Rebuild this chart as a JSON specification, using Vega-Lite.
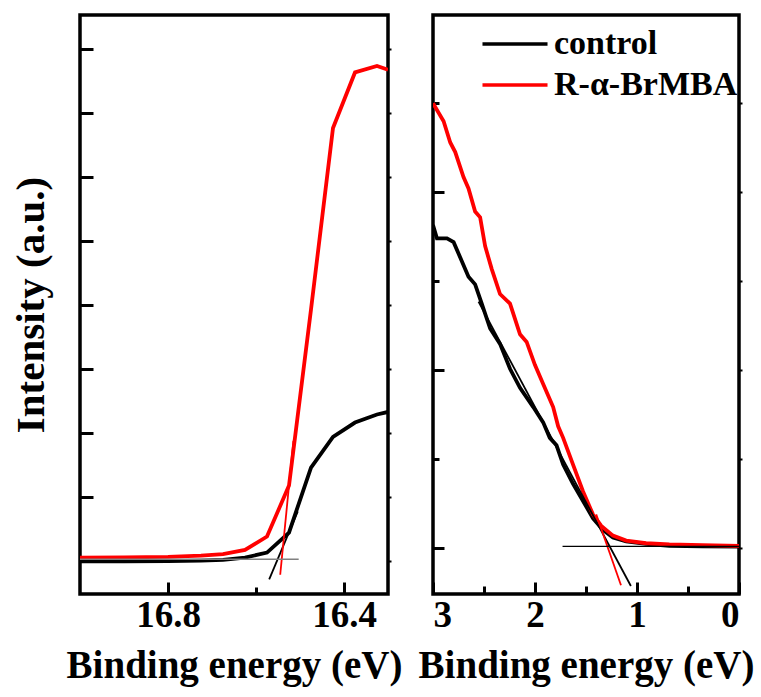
{
  "$schema": "https://vega.github.io/schema/vega-lite/v6.json",
  "padding": {"left": 8, "top": 13, "right": 5, "bottom": 5},
  "bounds": "flush",
  "spacing": 45,
  "background": "white",
  "config": {
    "view": {"stroke": "black", "strokeWidth": 3.5},
    "font": "Liberation Serif",
    "axis": {
      "domain": false, "grid": false,
      "labelFont": "Liberation Serif", "labelFontWeight": "bold", "labelFontSize": 37, "labelColor": "black",
      "titleFont": "Liberation Serif", "titleFontWeight": "bold", "titleFontSize": 39, "titleColor": "black",
      "tickColor": "black", "tickWidth": 3
    },
    "legend": {
      "labelFont": "Liberation Serif", "labelFontWeight": "bold", "labelFontSize": 34, "labelColor": "black", "labelLimit": 0
    }
  },
  "resolve": {"scale": {"color": "independent"}, "legend": {"color": "independent"}},
  "datasets": {
    "left": [
      {"s": "control", "e": 17.0, "v": 0.0},
      {"s": "control", "e": 16.9, "v": 0.001},
      {"s": "control", "e": 16.8, "v": 0.002},
      {"s": "control", "e": 16.725, "v": 0.006},
      {"s": "control", "e": 16.675, "v": 0.012},
      {"s": "control", "e": 16.625, "v": 0.030},
      {"s": "control", "e": 16.575, "v": 0.069},
      {"s": "control", "e": 16.525, "v": 0.225},
      {"s": "control", "e": 16.475, "v": 0.732},
      {"s": "control", "e": 16.425, "v": 0.972},
      {"s": "control", "e": 16.375, "v": 1.083},
      {"s": "control", "e": 16.325, "v": 1.146},
      {"s": "control", "e": 16.3, "v": 1.166},
      {"s": "R-α-BrMBA", "e": 17.0, "v": 0.030},
      {"s": "R-α-BrMBA", "e": 16.9, "v": 0.032},
      {"s": "R-α-BrMBA", "e": 16.8, "v": 0.035},
      {"s": "R-α-BrMBA", "e": 16.725, "v": 0.045},
      {"s": "R-α-BrMBA", "e": 16.675, "v": 0.057},
      {"s": "R-α-BrMBA", "e": 16.625, "v": 0.090},
      {"s": "R-α-BrMBA", "e": 16.575, "v": 0.194},
      {"s": "R-α-BrMBA", "e": 16.525, "v": 0.592},
      {"s": "R-α-BrMBA", "e": 16.475, "v": 1.965},
      {"s": "R-α-BrMBA", "e": 16.425, "v": 3.380},
      {"s": "R-α-BrMBA", "e": 16.375, "v": 3.814},
      {"s": "R-α-BrMBA", "e": 16.325, "v": 3.864},
      {"s": "R-α-BrMBA", "e": 16.3, "v": 3.835}
    ],
    "right": [
      {"s": "control", "e": 3.0, "v": 1.816},
      {"s": "control", "e": 2.961, "v": 1.740},
      {"s": "control", "e": 2.863, "v": 1.740},
      {"s": "control", "e": 2.798, "v": 1.719},
      {"s": "control", "e": 2.733, "v": 1.633},
      {"s": "control", "e": 2.652, "v": 1.525},
      {"s": "control", "e": 2.587, "v": 1.482},
      {"s": "control", "e": 2.522, "v": 1.374},
      {"s": "control", "e": 2.440, "v": 1.234},
      {"s": "control", "e": 2.343, "v": 1.148},
      {"s": "control", "e": 2.245, "v": 1.008},
      {"s": "control", "e": 2.147, "v": 0.901},
      {"s": "control", "e": 2.017, "v": 0.793},
      {"s": "control", "e": 1.920, "v": 0.707},
      {"s": "control", "e": 1.855, "v": 0.620},
      {"s": "control", "e": 1.789, "v": 0.578},
      {"s": "control", "e": 1.724, "v": 0.470},
      {"s": "control", "e": 1.627, "v": 0.362},
      {"s": "control", "e": 1.529, "v": 0.265},
      {"s": "control", "e": 1.431, "v": 0.168},
      {"s": "control", "e": 1.334, "v": 0.103},
      {"s": "control", "e": 1.236, "v": 0.060},
      {"s": "control", "e": 1.106, "v": 0.039},
      {"s": "control", "e": 0.911, "v": 0.024},
      {"s": "control", "e": 0.683, "v": 0.013},
      {"s": "control", "e": 0.358, "v": 0.011},
      {"s": "control", "e": 0.0, "v": 0.009},
      {"s": "R-α-BrMBA", "e": 3.0, "v": 2.499},
      {"s": "R-α-BrMBA", "e": 2.896, "v": 2.398},
      {"s": "R-α-BrMBA", "e": 2.831, "v": 2.279},
      {"s": "R-α-BrMBA", "e": 2.782, "v": 2.225},
      {"s": "R-α-BrMBA", "e": 2.701, "v": 2.085},
      {"s": "R-α-BrMBA", "e": 2.652, "v": 2.021},
      {"s": "R-α-BrMBA", "e": 2.587, "v": 1.891},
      {"s": "R-α-BrMBA", "e": 2.538, "v": 1.859},
      {"s": "R-α-BrMBA", "e": 2.489, "v": 1.697},
      {"s": "R-α-BrMBA", "e": 2.424, "v": 1.568},
      {"s": "R-α-BrMBA", "e": 2.343, "v": 1.428},
      {"s": "R-α-BrMBA", "e": 2.245, "v": 1.374},
      {"s": "R-α-BrMBA", "e": 2.147, "v": 1.202},
      {"s": "R-α-BrMBA", "e": 2.082, "v": 1.159},
      {"s": "R-α-BrMBA", "e": 2.001, "v": 1.030},
      {"s": "R-α-BrMBA", "e": 1.920, "v": 0.922},
      {"s": "R-α-BrMBA", "e": 1.822, "v": 0.793},
      {"s": "R-α-BrMBA", "e": 1.773, "v": 0.685},
      {"s": "R-α-BrMBA", "e": 1.724, "v": 0.620},
      {"s": "R-α-BrMBA", "e": 1.627, "v": 0.470},
      {"s": "R-α-BrMBA", "e": 1.529, "v": 0.319},
      {"s": "R-α-BrMBA", "e": 1.431, "v": 0.189},
      {"s": "R-α-BrMBA", "e": 1.350, "v": 0.125},
      {"s": "R-α-BrMBA", "e": 1.236, "v": 0.071},
      {"s": "R-α-BrMBA", "e": 1.106, "v": 0.043},
      {"s": "R-α-BrMBA", "e": 0.911, "v": 0.028},
      {"s": "R-α-BrMBA", "e": 0.683, "v": 0.021},
      {"s": "R-α-BrMBA", "e": 0.358, "v": 0.017},
      {"s": "R-α-BrMBA", "e": 0.0, "v": 0.013}
    ],
    "fits": [
      {"p": "L", "k": "black", "e": 16.570, "v": -0.140},
      {"p": "L", "k": "black", "e": 16.505, "v": 0.39},
      {"p": "L", "k": "red", "e": 16.545, "v": -0.104},
      {"p": "L", "k": "red", "e": 16.515, "v": 0.94},
      {"p": "L", "k": "base", "e": 17.0, "v": 0.018},
      {"p": "L", "k": "base", "e": 16.503, "v": 0.018},
      {"p": "R", "k": "black", "e": 2.554, "v": 1.385},
      {"p": "R", "k": "black", "e": 1.06, "v": -0.212},
      {"p": "R", "k": "red", "e": 1.40, "v": 0.19},
      {"p": "R", "k": "red", "e": 1.157, "v": -0.208},
      {"p": "R", "k": "base", "e": 1.73, "v": 0.011},
      {"p": "R", "k": "base", "e": 0.0, "v": 0.011}
    ]
  },
  "hconcat": [
    {
      "width": 308,
      "height": 579,
      "resolve": {"axis": {"x": "independent", "y": "independent"}},
      "layer": [
        {
          "data": {"name": "left"},
          "mark": {"type": "line", "strokeWidth": 3.8, "clip": true},
          "encoding": {
            "x": {"field": "e", "type": "quantitative",
              "scale": {"domain": [16.3, 17.0], "reverse": true, "nice": false, "zero": false},
              "axis": {"orient": "bottom", "values": [16.8, 16.4], "format": ".1f", "tickSize": -12, "labelPadding": 15, "title": "Binding energy (eV)", "titlePadding": 13}},
            "y": {"field": "v", "type": "quantitative",
              "scale": {"domain": [-0.254, 4.262], "nice": false, "zero": false},
              "axis": {"orient": "left", "values": [0, 0.5, 1, 1.5, 2, 2.5, 3, 3.5, 4], "labels": false, "tickSize": -13, "title": "Intensity (a.u.)", "titlePadding": 26, "titleFontSize": 41}},
            "color": {"field": "s", "type": "nominal",
              "scale": {"domain": ["control", "R-α-BrMBA"], "range": ["#000000", "#ff0000"]},
              "legend": null}
          }
        },
        {
          "data": {"name": "fits"},
          "transform": [{"filter": "datum.p === 'L' && datum.k === 'black'"}],
          "mark": {"type": "line", "color": "#000000", "strokeWidth": 1.8, "clip": true},
          "encoding": {
            "x": {"field": "e", "type": "quantitative",
              "scale": {"domain": [16.3, 17.0], "reverse": true, "nice": false, "zero": false},
              "axis": {"orient": "bottom", "values": [16.6], "labels": false, "tickSize": -7, "title": null}},
            "y": {"field": "v", "type": "quantitative",
              "scale": {"domain": [-0.254, 4.262], "nice": false, "zero": false},
              "axis": {"orient": "right", "values": [0, 0.5, 1, 1.5, 2, 2.5, 3, 3.5, 4], "labels": false, "tickSize": 3, "tickWidth": 2, "title": null}}
          }
        },
        {
          "data": {"name": "fits"},
          "transform": [{"filter": "datum.p === 'L' && datum.k === 'red'"}],
          "mark": {"type": "line", "color": "#ff0000", "strokeWidth": 1.8, "clip": true},
          "encoding": {
            "x": {"field": "e", "type": "quantitative", "axis": null},
            "y": {"field": "v", "type": "quantitative", "axis": null}
          }
        },
        {
          "data": {"name": "fits"},
          "transform": [{"filter": "datum.p === 'L' && datum.k === 'base'"}],
          "mark": {"type": "line", "color": "#808080", "strokeWidth": 1.5, "clip": true},
          "encoding": {
            "x": {"field": "e", "type": "quantitative", "axis": null},
            "y": {"field": "v", "type": "quantitative", "axis": null}
          }
        }
      ]
    },
    {
      "width": 306,
      "height": 579,
      "resolve": {"axis": {"x": "independent", "y": "independent"}},
      "layer": [
        {
          "data": {"name": "right"},
          "mark": {"type": "line", "strokeWidth": 3.8, "clip": true},
          "encoding": {
            "x": {"field": "e", "type": "quantitative",
              "scale": {"domain": [0, 3], "reverse": true, "nice": false, "zero": false},
              "axis": {"orient": "bottom", "values": [3, 2, 1, 0], "format": "d", "tickSize": -12, "labelPadding": 15, "title": "Binding energy (eV)", "titlePadding": 13}},
            "y": {"field": "v", "type": "quantitative",
              "scale": {"domain": [-0.257, 2.995], "nice": false, "zero": false},
              "axis": {"orient": "left", "values": [0, 1, 2], "labels": false, "tickSize": -11, "title": null}},
            "color": {"field": "s", "type": "nominal",
              "scale": {"domain": ["control", "R-α-BrMBA"], "range": ["#000000", "#ff0000"]},
              "legend": {"title": null, "orient": "none", "legendX": 65, "legendY": 12, "padding": 0,
                "symbolType": "M-3,0H3", "symbolSize": 470, "symbolStrokeWidth": 3.5,
                "labelOffset": 22, "rowPadding": 7}}
          }
        },
        {
          "data": {"name": "fits"},
          "transform": [{"filter": "datum.p === 'R' && datum.k === 'black'"}],
          "mark": {"type": "line", "color": "#000000", "strokeWidth": 1.8, "clip": true},
          "encoding": {
            "x": {"field": "e", "type": "quantitative",
              "scale": {"domain": [0, 3], "reverse": true, "nice": false, "zero": false},
              "axis": {"orient": "bottom", "values": [2.5, 1.5, 0.5], "labels": false, "tickSize": -8, "title": null}},
            "y": {"field": "v", "type": "quantitative",
              "scale": {"domain": [-0.257, 2.995], "nice": false, "zero": false},
              "axis": {"orient": "left", "values": [0.5, 1.5, 2.5], "labels": false, "tickSize": -6, "title": null}}
          }
        },
        {
          "data": {"name": "fits"},
          "transform": [{"filter": "datum.p === 'R' && datum.k === 'red'"}],
          "mark": {"type": "line", "color": "#ff0000", "strokeWidth": 1.8, "clip": true},
          "encoding": {
            "x": {"field": "e", "type": "quantitative", "axis": null},
            "y": {"field": "v", "type": "quantitative",
              "axis": {"orient": "right", "values": [0, 0.5, 1, 1.5, 2, 2.5], "labels": false, "tickSize": 3, "tickWidth": 2, "title": null}}
          }
        },
        {
          "data": {"name": "fits"},
          "transform": [{"filter": "datum.p === 'R' && datum.k === 'base'"}],
          "mark": {"type": "line", "color": "#000000", "strokeWidth": 1.2, "clip": true},
          "encoding": {
            "x": {"field": "e", "type": "quantitative", "axis": null},
            "y": {"field": "v", "type": "quantitative", "axis": null}
          }
        }
      ]
    }
  ]
}
